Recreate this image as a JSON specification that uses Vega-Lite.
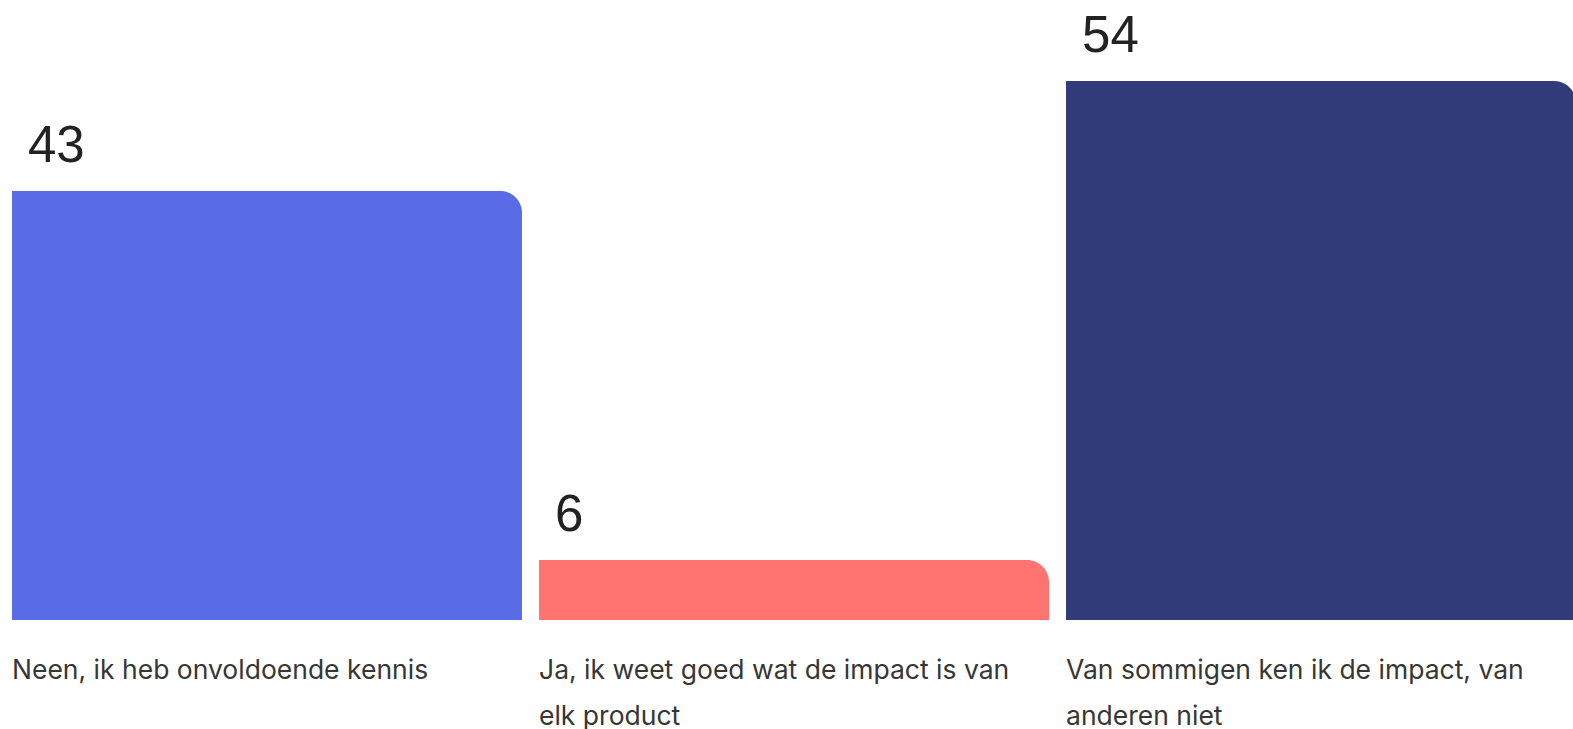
{
  "$schema": "https://vega.github.io/schema/vega-lite/v6.json",
  "width": 1564,
  "height": 620,
  "padding": {"left": 12, "top": 0, "right": 0, "bottom": 109},
  "autosize": {"type": "none"},
  "background": "#ffffff",
  "config": {"view": {"stroke": null}},
  "data": {
    "values": [
      {"answer": "Neen, ik heb onvoldoende kennis", "value": 43},
      {"answer": "Ja, ik weet goed wat de impact is van elk product", "value": 6},
      {"answer": "Van sommigen ken ik de impact, van anderen niet", "value": 54}
    ]
  },
  "encoding": {
    "x": {
      "field": "answer",
      "type": "nominal",
      "sort": null,
      "scale": {"paddingInner": 0.0323, "paddingOuter": 0},
      "axis": {
        "title": null,
        "domain": false,
        "ticks": false,
        "labelAlign": "left",
        "labelOffset": -255,
        "labelBaseline": "alphabetic",
        "labelPadding": 58,
        "labelLineHeight": 46,
        "labelFont": "Inter",
        "labelFontSize": 26.5,
        "labelColor": "#363636",
        "labelAngle": 0,
        "labelLimit": 0,
        "labelOverlap": false,
        "labelFlush": false,
        "labelExpr": "datum.label == 'Ja, ik weet goed wat de impact is van elk product' ? ['Ja, ik weet goed wat de impact is van', 'elk product'] : datum.label == 'Van sommigen ken ik de impact, van anderen niet' ? ['Van sommigen ken ik de impact, van', 'anderen niet'] : datum.label"
      }
    },
    "y": {
      "field": "value",
      "type": "quantitative",
      "scale": {"domain": [0, 62.12], "nice": false, "zero": true},
      "axis": null
    }
  },
  "layer": [
    {
      "mark": {"type": "bar", "cornerRadiusTopRight": 22},
      "encoding": {
        "color": {
          "field": "answer",
          "type": "nominal",
          "sort": null,
          "scale": {
            "domain": ["Neen, ik heb onvoldoende kennis", "Ja, ik weet goed wat de impact is van elk product", "Van sommigen ken ik de impact, van anderen niet"],
            "range": ["#5A6BE6", "#FF7471", "#323B7A"]
          },
          "legend": null
        }
      }
    },
    {
      "mark": {"type": "text", "align": "left", "baseline": "alphabetic", "dx": 16, "dy": -29, "font": "Liberation Sans", "fontSize": 51, "color": "#222222"},
      "encoding": {
        "x": {"field": "answer", "type": "nominal", "sort": null, "bandPosition": 0},
        "text": {"field": "value", "type": "quantitative"}
      }
    }
  ]
}
